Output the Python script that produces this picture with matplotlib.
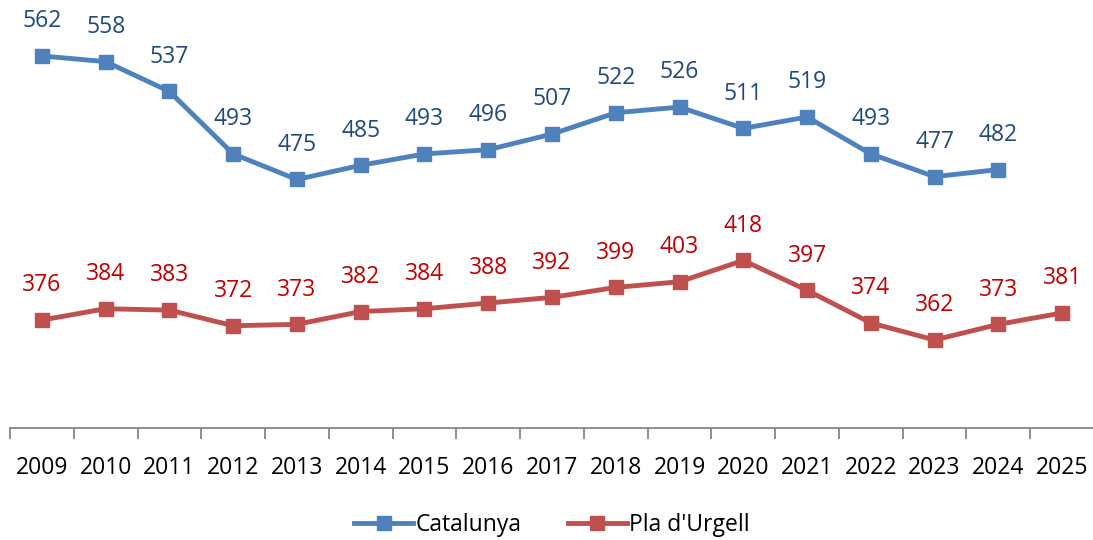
import matplotlib.pyplot as plt
import numpy as np

years = [str(y) for y in range(2009, 2026)]
catalunya = [562, 558, 537, 493, 475, 485, 493, 496, 507, 522, 526, 511, 519, 493, 477, 482]
pla_urgell = [376, 384, 383, 372, 373, 382, 384, 388, 392, 399, 403, 418, 397, 374, 362, 373, 381]

plt.rcParams['font.family'] = ['Open Sans', 'DejaVu Sans']

fig = plt.figure(figsize=(10.93, 5.40), dpi=100)
ax = fig.add_axes([10 / 1093, 112 / 540, 1084 / 1093, 426 / 540])

series = [
    (catalunya, "Catalunya", "#4F81BD", "#1F497D"),
    (pla_urgell, "Pla d'Urgell", "#C0504D", "#C00000"),
]
for values, name, color, label_color in series:
    x = np.arange(len(values))
    ax.plot(x, values, color=color, linewidth=3.5, marker='s', markersize=10,
            label=name, solid_joinstyle='miter')
    for xi, v in zip(x, values):
        ax.annotate(str(v), (xi, v), xytext=(0, 25), textcoords='offset points',
                    ha='center', va='center', fontsize=16.5, color=label_color)

ax.set_xlim(-0.5, len(years) - 0.5)
ax.set_ylim(300, 600)
ax.set_yticks([])
ax.set_xticks(np.arange(len(years)))
ax.set_xticklabels(years, fontsize=16.5)
ax.set_xticks(np.arange(-0.5, len(years)), minor=True)
ax.tick_params(axis='x', which='major', length=0, pad=20)
ax.tick_params(axis='x', which='minor', length=8, width=1.3, color='#868686', direction='out')
for s in ['top', 'right', 'left']:
    ax.spines[s].set_visible(False)
ax.spines['bottom'].set_color('#868686')
ax.spines['bottom'].set_linewidth(1.3)

ax.legend(loc='lower center', bbox_to_anchor=(0.5, -0.305), ncol=2, frameon=False,
          fontsize=16.5, handlelength=2.6, handletextpad=0.1, columnspacing=2.0)

fig.savefig('out.png', dpi=100)
